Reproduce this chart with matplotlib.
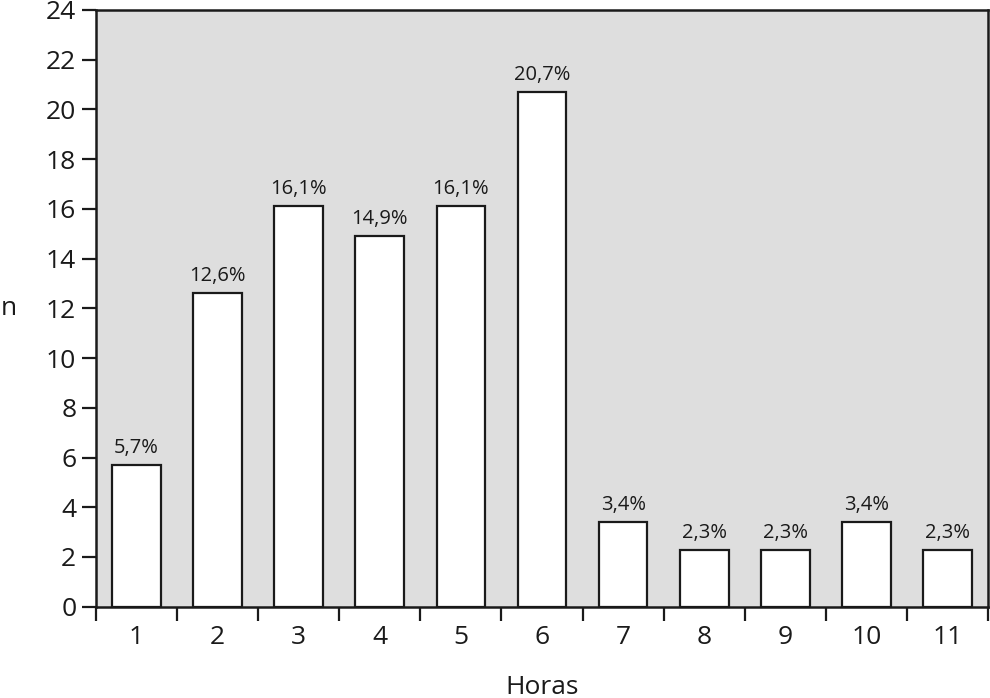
import matplotlib
matplotlib.use("Agg")
import matplotlib.pyplot as plt
import numpy as np

plt.rcParams['font.family'] = ['Open Sans', 'DejaVu Sans']

horas = ['1', '2', '3', '4', '5', '6', '7', '8', '9', '10', '11']
valores = [5.7, 12.6, 16.1, 14.9, 16.1, 20.7, 3.4, 2.3, 2.3, 3.4, 2.3]
etiquetas = ['5,7%', '12,6%', '16,1%', '14,9%', '16,1%', '20,7%', '3,4%', '2,3%', '2,3%', '3,4%', '2,3%']
yticks = list(range(0, 25, 2))

fig = plt.figure(figsize=(9.9, 6.98), dpi=100)
ax = fig.add_axes([0.0967, 0.1308, 0.9015, 0.8549])
ax.set_facecolor('#dedede')

x = np.arange(1, len(horas) + 1)
bars = ax.bar(x, valores, width=0.6, color='white', edgecolor='#1a1a1a', linewidth=1.6, zorder=3)
for xi, v, t in zip(x, valores, etiquetas):
    ax.annotate(t, (xi, v), xytext=(0, 5), textcoords='offset points',
                ha='center', va='bottom', fontsize=14.5, color='#1a1a1a')

ax.set_xlim(0.5, len(horas) + 0.5)
ax.set_ylim(0, 24)
ax.set_yticks(yticks)
ax.set_yticklabels([str(v) for v in yticks], fontsize=19, color='#1a1a1a')
ax.set_xticks(x)
ax.set_xticklabels(horas, fontsize=19, color='#1a1a1a')
ax.set_xticks(np.arange(0.5, len(horas) + 1, 1.0), minor=True)
ax.tick_params(axis='x', which='major', length=0, pad=13)
ax.tick_params(axis='x', which='minor', length=10, width=1.6, color='#1a1a1a', direction='out')
ax.tick_params(axis='y', which='major', length=10, width=1.6, color='#1a1a1a', direction='out', pad=4)
for s in ax.spines.values():
    s.set_linewidth(1.8)
    s.set_color('#1a1a1a')

ax.set_xlabel('Horas', fontsize=19, color='#1a1a1a', labelpad=18)
fig.text(0.001, 0.558, 'n', fontsize=19, color='#1a1a1a', ha='left', va='center')

fig.savefig('out.png', dpi=100, facecolor='white')
